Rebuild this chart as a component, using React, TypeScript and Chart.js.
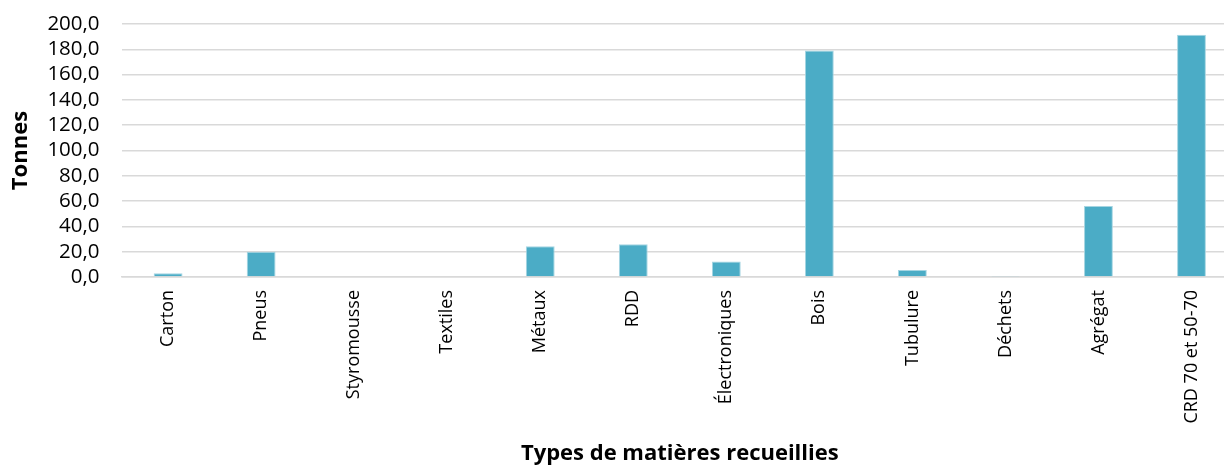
import React, { useEffect, useRef } from "react";
import { Chart, registerables } from "chart.js";

Chart.register(...registerables);

const categories = [
  "Carton",
  "Pneus",
  "Styromousse",
  "Textiles",
  "Métaux",
  "RDD",
  "Électroniques",
  "Bois",
  "Tubulure",
  "Déchets",
  "Agrégat",
  "CRD 70 et 50-70",
];

const tonnes = [3.0, 19.9, 0, 0.6, 24.4, 25.8, 12.3, 179.0, 5.6, 0.3, 56.1, 191.6];

const yTitle = "Tonnes";
const xTitle = "Types de matières recueillies";

export default function App() {
  const ref = useRef<HTMLCanvasElement | null>(null);

  useEffect(() => {
    document.body.style.margin = "0";
    const ctx = ref.current;
    if (!ctx) return;
    const chart = new Chart(ctx, {
      type: "bar",
      data: {
        labels: categories,
        datasets: [
          {
            data: tonnes,
            backgroundColor: "#4BACC6",
            borderColor: "#A5D5E2",
            borderWidth: 1,
            categoryPercentage: 1,
            barPercentage: 0.31,
          },
        ],
      },
      options: {
        animation: false,
        responsive: false,
        maintainAspectRatio: false,
        layout: { padding: { left: 8, right: 2, top: 0, bottom: 0 } },
        plugins: {
          legend: { display: false },
          tooltip: { enabled: false },
        },
        scales: {
          x: {
            grid: { display: false, drawTicks: false },
            border: { display: true, color: "#D9D9D9", width: 1.5 },
            ticks: {
              autoSkip: false,
              minRotation: 90,
              maxRotation: 90,
              padding: 13,
              color: "#000",
              font: { family: "'Open Sans'", size: 18 },
            },
            title: {
              display: true,
              text: xTitle,
              color: "#000",
              font: { family: "'Open Sans'", size: 22, weight: "bold" },
              padding: { top: 4, bottom: 0 },
            },
          },
          y: {
            min: 0,
            max: 200,
            grid: { color: "#D9D9D9", lineWidth: 1.5, drawTicks: false },
            border: { display: false },
            ticks: {
              autoSkip: false,
              stepSize: 20,
              padding: 22,
              color: "#000",
              font: { family: "'Open Sans'", size: 20.5, lineHeight: 0.2 },
              callback: (v: any) => Number(v).toFixed(1).replace(".", ","),
            },
            title: {
              display: true,
              text: yTitle,
              color: "#000",
              font: { family: "'Open Sans'", size: 22, weight: "bold" },
              padding: { top: 0, bottom: -9 },
            },
          },
        },
      },
    });
    return () => chart.destroy();
  }, []);

  return (
    <div
      style={{
        position: "fixed",
        left: 0,
        top: 0,
        width: 1224,
        height: 467,
        overflow: "hidden",
        background: "#fff",
      }}
    >
      <canvas ref={ref} width={1240} height={467} style={{ display: "block" }} />
    </div>
  );
}
